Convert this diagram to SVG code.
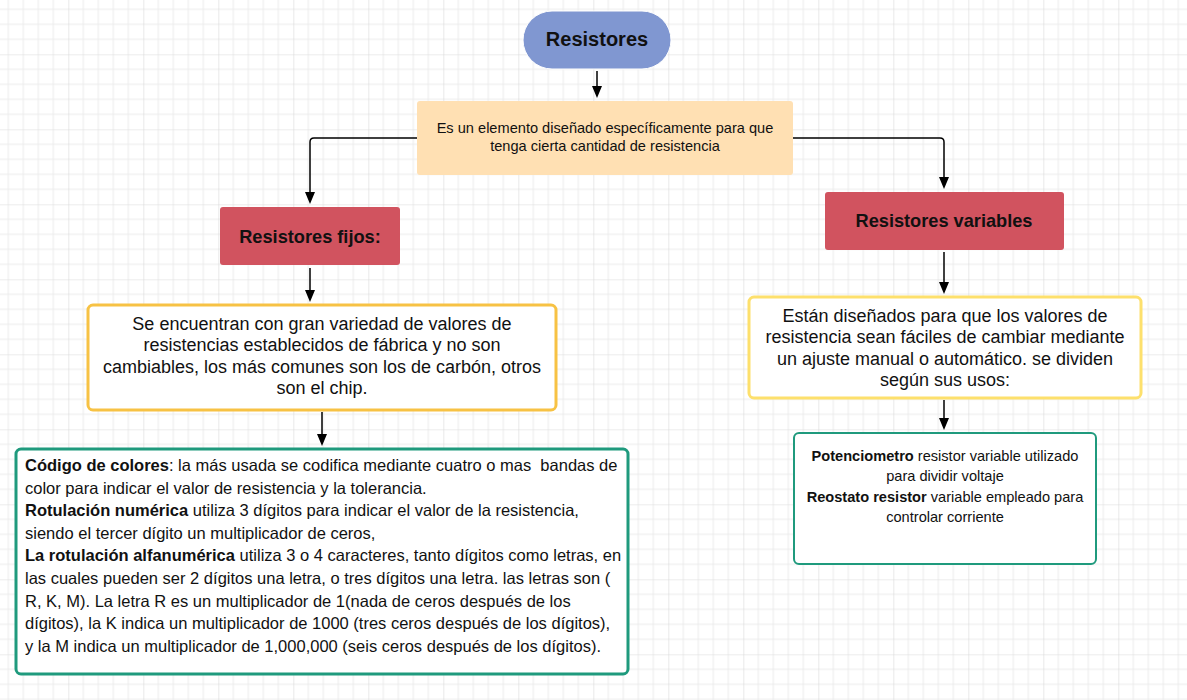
<svg xmlns="http://www.w3.org/2000/svg" width="1187" height="700" viewBox="0 0 1187 700">
<defs>
<pattern id="grid" x="-6.7" y="-20.7" width="75" height="75" patternUnits="userSpaceOnUse">
<path d="M15 0V75M30 0V75M45 0V75M60 0V75M0 15H75M0 30H75M0 45H75M0 60H75" stroke="#ebebeb" stroke-width="1" fill="none"/>
<path d="M0 0V75M0 0H75" stroke="#dadada" stroke-width="1.2" fill="none"/>
</pattern>
<style>
.c{fill:none;stroke:#000;stroke-width:1.5}
.t{font-family:"Liberation Sans",Arial,sans-serif;fill:#111}
.b{font-weight:bold}
.red{fill:#d1535f}
</style>
</defs>
<rect width="1187" height="700" fill="#fff"/>
<rect width="1187" height="700" fill="url(#grid)"/>

<g id="connectors">
<path class="c" d="M597 71V88"/>
<path class="c" d="M417 138H314Q310 138 310 142V194"/>
<path class="c" d="M793 138H940Q944 138 944 142V179"/>
<path class="c" d="M310 268V292"/>
<path class="c" d="M944 252V284"/>
<path class="c" d="M322 412V436"/>
<path class="c" d="M944 400V420"/>
<path d="M592 86H602L597 98Z M305 192H315L310 204Z M939 177H949L944 189Z M305 290H315L310 302Z M939 282H949L944 294Z M317 434H327L322 446Z M939 418H949L944 430Z" fill="#000"/>
</g>

<g id="resistores">
<rect x="523" y="11" width="148" height="58" rx="29" fill="#8097d1" stroke="#fff" stroke-width="1"/>
<text class="t b" x="597" y="46" font-size="20" text-anchor="middle">Resistores</text>
</g>

<g id="definicion">
<rect x="417" y="101" width="376" height="74" rx="3" fill="#ffe0b3"/>
<text class="t" font-size="14.6" text-anchor="middle"><tspan x="605" y="133">Es un elemento diseñado específicamente para que</tspan><tspan x="605" y="151">tenga cierta cantidad de resistencia</tspan></text>
</g>

<g id="fijos">
<rect class="red" x="220" y="207" width="180" height="58" rx="3"/>
<text class="t b" x="310" y="242.5" font-size="18.2" text-anchor="middle">Resistores fijos:</text>
</g>

<g id="variables">
<rect class="red" x="825" y="192" width="239" height="58" rx="3"/>
<text class="t b" x="944" y="226.5" font-size="18.2" text-anchor="middle">Resistores variables</text>
</g>

<g id="fijos-desc">
<rect x="88" y="305" width="468" height="105" rx="5" fill="#fff" stroke="#f7c244" stroke-width="3"/>
<text class="t" font-size="18" text-anchor="middle"><tspan x="322" y="329.5">Se encuentran con gran variedad de valores de</tspan><tspan x="322" y="351">resistencias establecidos de fábrica y no son</tspan><tspan x="322" y="372.5">cambiables, los más comunes son los de carbón, otros</tspan><tspan x="322" y="394">son el chip.</tspan></text>
</g>

<g id="variables-desc">
<rect x="749" y="297" width="392" height="101" rx="5" fill="#fff" stroke="#fde06c" stroke-width="3"/>
<text class="t" font-size="18" text-anchor="middle"><tspan x="945" y="321.5">Están diseñados para que los valores de</tspan><tspan x="945" y="343">resistencia sean fáciles de cambiar mediante</tspan><tspan x="945" y="364.5">un ajuste manual o automático. se dividen</tspan><tspan x="945" y="386">según sus usos:</tspan></text>
</g>

<g id="tipos-fijos">
<rect x="16" y="449" width="612" height="225" rx="5" fill="#fff" stroke="#1f9a7d" stroke-width="3"/>
<text class="t" font-size="16.5"><tspan x="25" y="471"><tspan class="b">Código de colores</tspan>: la más usada se codifica mediante cuatro o mas&#160; bandas de</tspan><tspan x="25" y="493.5">color para indicar el valor de resistencia y la tolerancia.</tspan><tspan x="25" y="516"><tspan class="b">Rotulación numérica</tspan> utiliza 3 dígitos para indicar el valor de la resistencia,</tspan><tspan x="25" y="538.5">siendo el tercer dígito un multiplicador de ceros,</tspan><tspan x="25" y="561"><tspan class="b">La rotulación alfanumérica</tspan> utiliza 3 o 4 caracteres, tanto dígitos como letras, en</tspan><tspan x="25" y="584">las cuales pueden ser 2 dígitos una letra, o tres dígitos una letra. las letras son (</tspan><tspan x="25" y="606.5">R, K, M). La letra R es un multiplicador de 1(nada de ceros después de los</tspan><tspan x="25" y="629">dígitos), la K indica un multiplicador de 1000 (tres ceros después de los dígitos),</tspan><tspan x="25" y="652">y la M indica un multiplicador de 1,000,000 (seis ceros después de los dígitos).</tspan></text>
</g>

<g id="tipos-variables">
<rect x="794" y="433" width="302" height="131" rx="5" fill="#fff" stroke="#1f9a7d" stroke-width="2"/>
<text class="t" font-size="14.6" text-anchor="middle"><tspan x="945" y="460.5"><tspan class="b">Potenciometro</tspan> resistor variable utilizado</tspan><tspan x="945" y="481">para dividir voltaje</tspan><tspan x="945" y="501.5"><tspan class="b">Reostato resistor</tspan> variable empleado para</tspan><tspan x="945" y="522">controlar corriente</tspan></text>
</g>
</svg>
